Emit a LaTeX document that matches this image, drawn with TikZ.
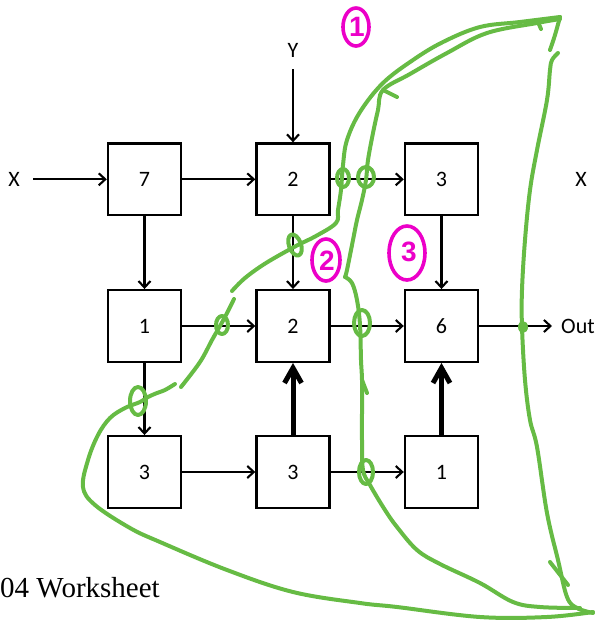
\documentclass[tikz,border=0pt]{standalone}
\usepackage{fontspec}
\setmainfont{Liberation Serif}
\newfontfamily\labelfont{Carlito}
\newfontfamily\notefont{Liberation Sans}
\usetikzlibrary{arrows.meta}
\definecolor{penGreen}{RGB}{102,187,68}
\definecolor{penPink}{RGB}{236,0,200}

\begin{document}
\begin{tikzpicture}[x=1pt,y=-1pt,
  cell/.style={draw, line width=2.4pt, minimum width=73pt, minimum height=71.5pt,
    inner sep=0pt, font=\labelfont\fontsize{22}{22}\selectfont},
  lbl/.style={font=\labelfont\fontsize{22}{22}\selectfont, inner sep=0pt},
  flow/.style={line width=2.1pt, -{Straight Barb[length=6.5pt,width=12pt,line width=2.1pt]}},
  heavy/.style={line width=5pt, -{Straight Barb[length=15pt,width=17pt,line width=5pt]}},
  ink/.style={penGreen, line width=4pt, line cap=round, line join=round},
  pinkpen/.style={penPink, line width=3.6pt},
  pinkdigit/.style={penPink, inner sep=0pt, font=\notefont\bfseries\fontsize{28}{28}\selectfont}
]
\useasboundingbox (0,0) rectangle (596,625);

% grid of cells
\node[cell] (a1) at (144.5,179.3) {7};
\node[cell] (a2) at (293,179.3) {2};
\node[cell] (a3) at (441.5,179.3) {3};
\node[cell] (b1) at (144.5,326) {1};
\node[cell] (b2) at (293,326) {2};
\node[cell] (b3) at (441.5,326) {6};
\node[cell] (c1) at (144.5,472) {3};
\node[cell] (c2) at (293,472) {3};
\node[cell] (c3) at (441.5,472) {1};

% inputs and output
\node[lbl] (xin) at (14,179.3) {X};
\node[lbl] (xright) at (581,179.3) {X};
\node[lbl] (yin) at (293,50) {Y};
\node[lbl, anchor=west] (out) at (561,326) {Out};
\coordinate (xs) at (33,179.3);
\coordinate (ys) at (293,69);
\coordinate (oe) at (552,326);

% connectors
\draw[flow] (xs) -- (a1.west);
\draw[flow] (ys) -- (a2.north);
\draw[flow] (a1.east) -- (a2.west);
\draw[flow] (a2.east) -- (a3.west);
\draw[flow] (a1.south) -- (b1.north);
\draw[flow] (a2.south) -- (b2.north);
\draw[flow] (a3.south) -- (b3.north);
\draw[flow] (b1.east) -- (b2.west);
\draw[flow] (b2.east) -- (b3.west);
\draw[flow] (b3.east) -- (oe);
\draw[flow] (b1.south) -- (c1.north);
\draw[flow] (c1.east) -- (c2.west);
\draw[flow] (c2.east) -- (c3.west);
\draw[heavy] (c2.north) -- (b2.south);
\draw[heavy] (c3.north) -- (b3.south);

% caption
\node[anchor=base west, inner sep=0pt, font=\fontsize{29}{29}\selectfont] (ws) at (0,597) {04 Worksheet};

% green pen: outer loop
\draw[ink] plot[smooth, tension=0.6] coordinates {(560,17) (520,22) (480,27) (443,42) (413,60) (383,83) (360,112) (347,140) (343,165) (341,190) (338,210) (336,223) (316,236) (296,246) (266,263) (245,278) (232,291)};
\draw[ink] plot[smooth, tension=0.6] coordinates {(234,299) (226,315) (220,326) (212,340) (200,362) (181,387)};
\draw[ink] plot[smooth, tension=0.6] coordinates {(175,384) (165,390) (157,393) (148,397) (140,402) (125,408) (110,418) (98,435) (88,460) (83,487) (95,505) (130,528) (160,542) (227,570) (293,592) (360,603) (397,607) (480,617) (547,617) (593,612)};
% green pen: inner loop
\draw[ink] plot[smooth, tension=0.6] coordinates {(560,19) (537,23) (487,33) (447,53) (410,74) (383,90) (378,110) (373,133) (368,160) (366,180) (362,200) (357,220) (353,240) (347,270) (345,277)};
\draw[ink] plot[smooth, tension=0.6] coordinates {(345,277) (352,283) (357,300) (360,325) (361,360) (362,380) (362,413) (362,440) (363,470) (370,485) (385,510) (397,527) (417,550) (440,564) (480,583) (513,602) (540,607) (580,608)};
% green pen: right edge
\draw[ink] plot[smooth, tension=0.6] coordinates {(560,17) (555,35) (550,50)};
\draw[ink] plot[smooth, tension=0.6] coordinates {(558,53) (552,60) (550,70) (547,100) (537,150) (530,190) (525,240) (522,290) (522,327) (525,380) (530,420) (537,447) (547,513) (558,560) (567,597) (577,608) (593,613)};
\draw[ink] (550,562) -- (568,585);
% small ticks
\draw[ink] (383,90) -- (397,97);
\draw[ink] (538,22) -- (541,29);
\draw[ink] (362,380) -- (367,393);
% crossing marks
\draw[ink] (343,178) ellipse [x radius=6, y radius=9];
\draw[ink] (366,177) ellipse [x radius=8, y radius=10];
\draw[ink, rotate around={20:(295,245)}] (295,245) ellipse [x radius=6, y radius=11];
\draw[ink] (222,325) ellipse [x radius=6, y radius=9];
\draw[ink] (138,401) ellipse [x radius=8, y radius=14];
\draw[ink] (362,323) ellipse [x radius=8, y radius=13];
\draw[ink] (366,472) ellipse [x radius=7, y radius=12];
\fill[penGreen] (523,327) ellipse [x radius=5, y radius=6];

% pink labels
\draw[pinkpen] (356,27) ellipse [x radius=13, y radius=19];
\node[pinkdigit] (n1) at (357,27) {1};
\draw[pinkpen] (326,260) ellipse [x radius=14, y radius=21];
\node[pinkdigit] (n2) at (327,261) {2};
\draw[pinkpen] (407,253) ellipse [x radius=18, y radius=27];
\node[pinkdigit] (n3) at (409,252) {3};
\end{tikzpicture}
\end{document}
